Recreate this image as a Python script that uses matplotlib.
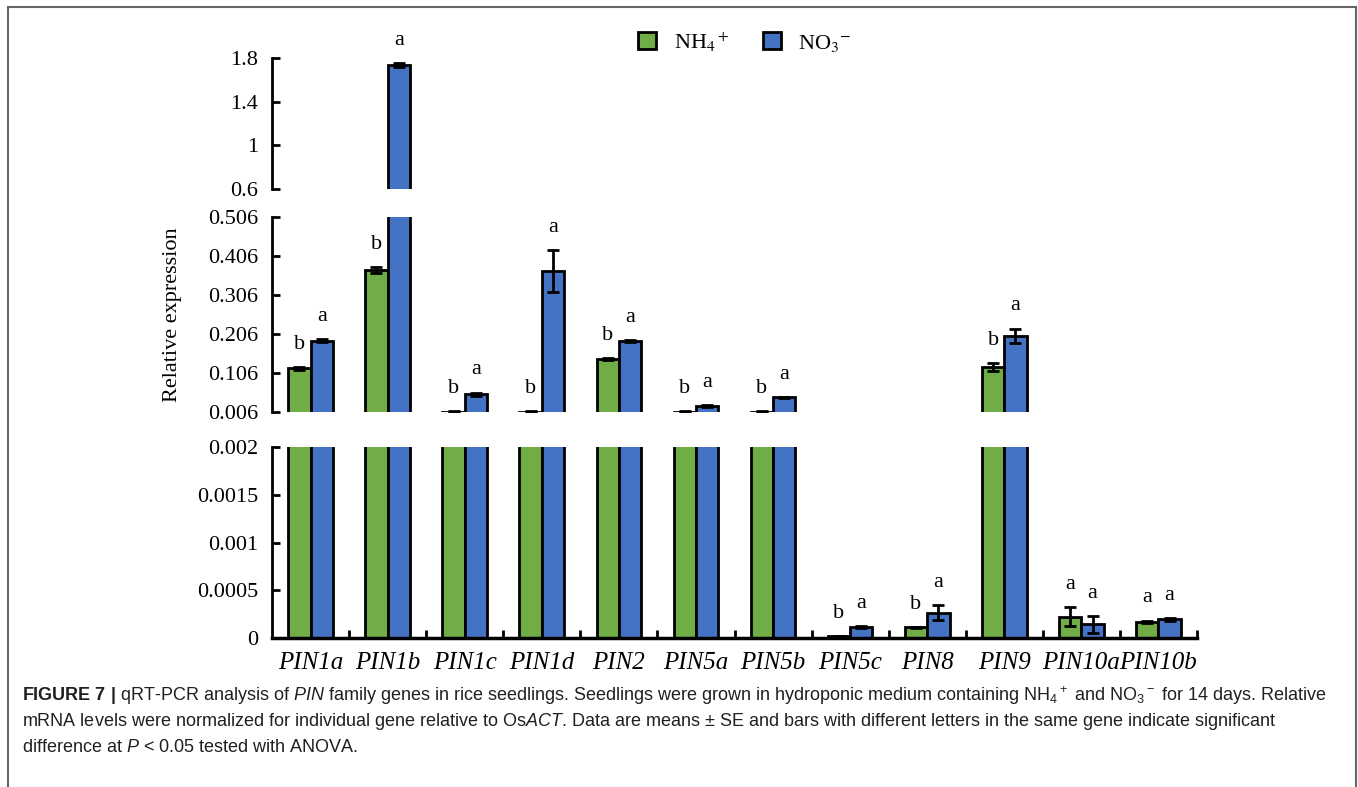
import matplotlib
matplotlib.use("Agg")
import matplotlib.pyplot as plt
import numpy as np
from matplotlib.patches import Patch, Rectangle

plt.rcParams['font.family'] = ['Liberation Serif', 'DejaVu Serif']
plt.rcParams['mathtext.fontset'] = 'stix'
plt.rcParams['mathtext.rm'] = 'Liberation Sans'
plt.rcParams['mathtext.it'] = 'Liberation Sans:italic'
plt.rcParams['mathtext.bf'] = 'Liberation Sans:bold'

genes = ["PIN1a", "PIN1b", "PIN1c", "PIN1d", "PIN2", "PIN5a", "PIN5b",
         "PIN5c", "PIN8", "PIN9", "PIN10a", "PIN10b"]
nh4 = [0.118, 0.370, 0.007, 0.007, 0.142, 0.007, 0.007,
       0.00002, 0.00011, 0.121, 0.000224, 0.000168]
nh4_err = [0.004, 0.007, 0.0004, 0.0004, 0.003, 0.0004, 0.0004,
           0.000003, 0.000004, 0.011, 0.0001, 0.000015]
no3 = [0.189, 1.736, 0.052, 0.368, 0.188, 0.021, 0.044,
       0.000115, 0.000265, 0.201, 0.000143, 0.000195]
no3_err = [0.004, 0.018, 0.004, 0.054, 0.003, 0.002, 0.001,
           0.000015, 0.00008, 0.019, 0.00009, 0.000018]
nh4_letters = ["b", "b", "b", "b", "b", "b", "b", "b", "b", "b", "a", "a"]
no3_letters = ["a"] * 12

top_ticks = [0.6, 1, 1.4, 1.8]
top_labels = ["0.6", "1", "1.4", "1.8"]
mid_ticks = [0.006, 0.106, 0.206, 0.306, 0.406, 0.506]
mid_labels = ["0.006", "0.106", "0.206", "0.306", "0.406", "0.506"]
bot_ticks = [0, 0.0005, 0.001, 0.0015, 0.002]
bot_labels = ["0", "0.0005", "0.001", "0.0015", "0.002"]

green = '#70ad47'
blue = '#4472c4'

W, H = 1358, 787
fig = plt.figure(figsize=(W / 100, H / 100), dpi=100)

# gray frame round the figure
fig.patches.append(Rectangle((8 / W, -0.05), 1348 / W, 1.05 - 7 / H,
                             transform=fig.transFigure, fill=False,
                             edgecolor='#666666', lw=1.5))

left, width = 272 / W, 925 / W
def box(ytop, ybot):
    return [left, 1 - ybot / H, width, (ybot - ytop) / H]

ax_top = fig.add_axes(box(58, 189))
ax_mid = fig.add_axes(box(217, 412))
ax_bot = fig.add_axes(box(447, 638))

x = np.arange(len(genes))
w = 0.29

panels = [(ax_top, (0.6, 1.8), top_ticks, top_labels),
          (ax_mid, (0.006, 0.506), mid_ticks, mid_labels),
          (ax_bot, (0, 0.002), bot_ticks, bot_labels)]

for ax, ylim, ticks, labels in panels:
    ax.bar(x - w / 2, nh4, w, color=green, edgecolor='black', lw=2)
    ax.bar(x + w / 2, no3, w, color=blue, edgecolor='black', lw=2)
    ax.errorbar(x - w / 2, nh4, yerr=nh4_err, fmt='none', ecolor='black',
                elinewidth=2, capsize=4, capthick=2)
    ax.errorbar(x + w / 2, no3, yerr=no3_err, fmt='none', ecolor='black',
                elinewidth=2, capsize=4, capthick=2)
    ax.set_xlim(-0.5, len(genes) - 0.5)
    ax.set_ylim(*ylim)
    ax.set_yticks(ticks)
    ax.set_yticklabels(labels, fontsize=16)
    ax.tick_params(axis='y', direction='in', length=6, width=2, pad=10)
    for s in ['top', 'right', 'bottom']:
        ax.spines[s].set_visible(False)
    ax.spines['left'].set_linewidth(2)
    ax.set_xticks([])

ax_bot.spines['bottom'].set_visible(True)
ax_bot.spines['bottom'].set_linewidth(2.5)
ax_bot.set_xticks(np.arange(0.5, len(genes), 1.0))
ax_bot.set_xticklabels([])
ax_bot.tick_params(axis='x', direction='in', length=6, width=2)
for i, g in enumerate(genes):
    ax_bot.text(i, -0.00015, g, ha='center', va='top', fontsize=18,
                fontstyle='italic')

ax_mid.set_ylabel("Relative expression", fontsize=16)
ax_mid.yaxis.set_label_coords(-0.097, 0.5)

# significance letters above the error bars
def letter(xpos, val, err, txt):
    top = val + err
    if top > 0.6:
        ax = ax_top
    elif val >= 0.006:
        ax = ax_mid
    else:
        ax = ax_bot
    ax.annotate(txt, (xpos, top), xytext=(0, 13), textcoords='offset points',
                ha='center', va='baseline', fontsize=16,
                annotation_clip=False)

for i in range(len(genes)):
    letter(i - w / 2, nh4[i], nh4_err[i], nh4_letters[i])
    letter(i + w / 2, no3[i], no3_err[i], no3_letters[i])

handles = [Patch(facecolor=green, edgecolor='black', lw=2),
           Patch(facecolor=blue, edgecolor='black', lw=2)]
fig.legend(handles, [r"NH$_4$$^+$", r"NO$_3$$^{-}$"], loc='center',
           bbox_to_anchor=(745 / W, 1 - 42 / H), ncol=2, frameon=False,
           fontsize=16, handlelength=0.8, handleheight=0.8,
           columnspacing=1.5, handletextpad=0.8)

cap_lines = [
    r"$\mathbf{FIGURE\ 7\ |}$ qRT-PCR analysis of $\mathit{PIN}$ family genes in rice seedlings. "
    r"Seedlings were grown in hydroponic medium containing NH$_4$$^+$ and NO$_3$$^-$ for 14 days. Relative",
    r"mRNA levels were normalized for individual gene relative to Os$\mathit{ACT}$. Data are means $\pm$ SE "
    r"and bars with different letters in the same gene indicate significant",
    r"difference at $\mathit{P}$ < 0.05 tested with ANOVA.",
]
for k, line in enumerate(cap_lines):
    fig.text(22 / W, 1 - (696 + 26 * k) / H, line, ha='left', va='center',
             fontsize=13, family='Liberation Sans', math_fontfamily='custom',
             color='#231f20')

fig.savefig("out.png", dpi=100)
